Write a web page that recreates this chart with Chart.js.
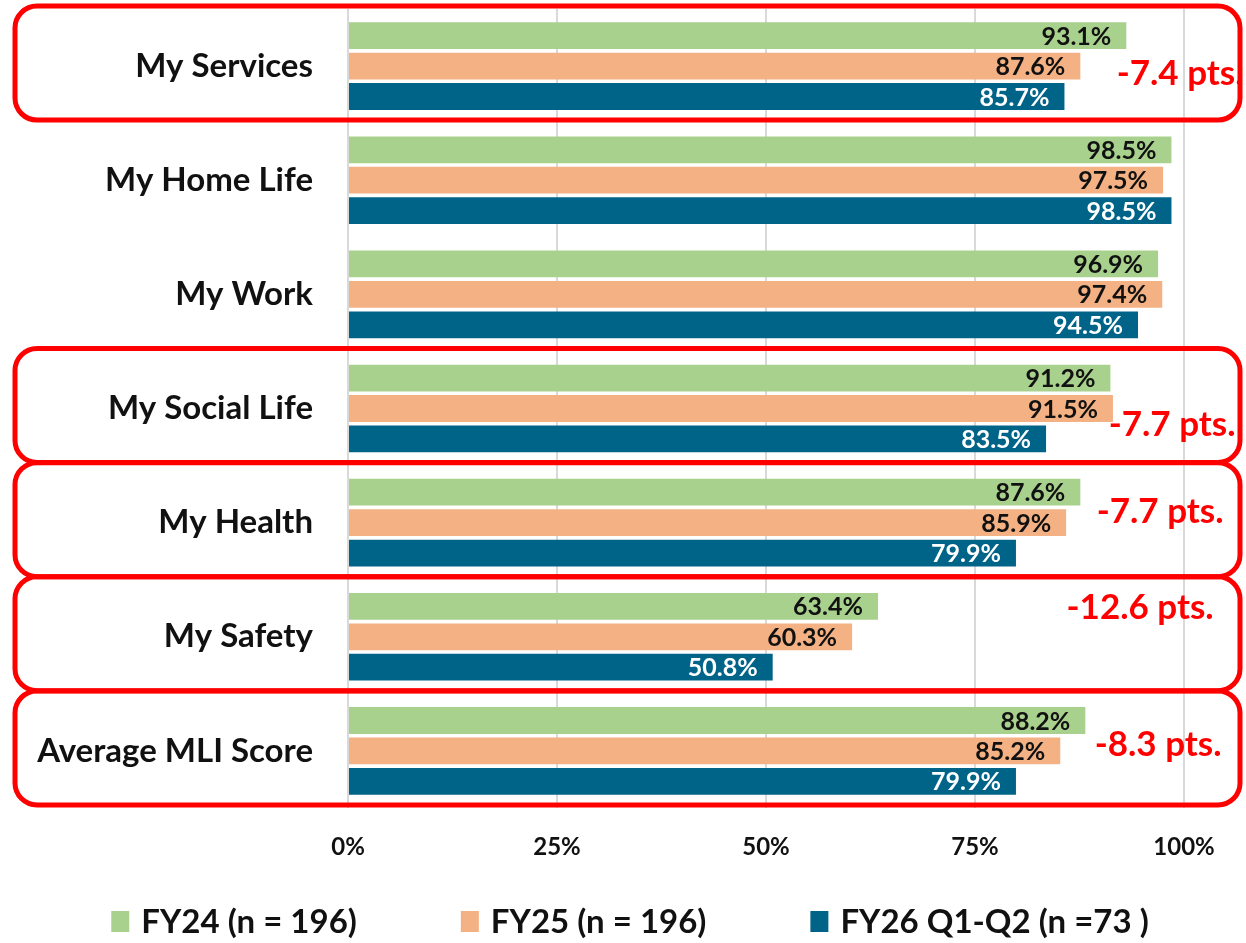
<!DOCTYPE html>
<html>
<head>
<meta charset="utf-8">
<script src="https://cdn.jsdelivr.net/npm/chart.js@4/dist/chart.umd.min.js"></script>
<style>
  html, body { margin: 0; padding: 0; background: #fff; }
  #wrap { width: 1246px; height: 943px; }
</style>
</head>
<body>
<div id="wrap"><canvas id="chart" width="1246" height="943"></canvas></div>
<script>
// categories, top to bottom
const categories = ['My Services', 'My Home Life', 'My Work', 'My Social Life', 'My Health', 'My Safety', 'Average MLI Score'];

// series values (fractions)
const fy24 = [0.931, 0.985, 0.969, 0.912, 0.876, 0.634, 0.882];
const fy25 = [0.876, 0.975, 0.974, 0.915, 0.859, 0.603, 0.852];
const fy26 = [0.857, 0.985, 0.945, 0.835, 0.799, 0.508, 0.799];

const seriesNames = ['FY24 (n = 196)', 'FY25 (n = 196)', 'FY26 Q1-Q2 (n =73 )'];
const seriesColors = ['#A9D18E', '#F4B183', '#006388'];
const labelColors = ['#111111', '#111111', '#ffffff'];

const tickValues = [0, 0.25, 0.5, 0.75, 1];

// highlighted categories and their change notes
const boxed = ['My Services', 'My Social Life', 'My Health', 'My Safety', 'Average MLI Score'];
const notes = ['-7.4 pts.', '-7.7 pts.', '-7.7 pts.', '-12.6 pts.', '-8.3 pts.'];
// nudges for each note (px), to sit where the slide had them
const noteDx = [17, 9, -3, -23, -5];
const noteDy = [8, 16, -11, -29, -6];

const FONT = 'Lato, "Open Sans", sans-serif';

const valueLabels = {
  id: 'valueLabels',
  afterDatasetsDraw(chart) {
    const ctx = chart.ctx;
    ctx.save();
    ctx.font = 'bold 25px ' + FONT;
    ctx.textAlign = 'right';
    ctx.textBaseline = 'middle';
    chart.data.datasets.forEach((ds, i) => {
      chart.getDatasetMeta(i).data.forEach((bar, j) => {
        ctx.fillStyle = labelColors[i];
        ctx.fillText((ds.data[j] * 100).toFixed(1) + '%', bar.x - 15, bar.y + 1);
      });
    });
    ctx.restore();
  }
};

const redBoxes = {
  id: 'redBoxes',
  afterDraw(chart) {
    const ctx = chart.ctx;
    const y = chart.scales.y;
    const x = chart.scales.x;
    ctx.save();
    ctx.strokeStyle = '#FF0000';
    ctx.lineWidth = 5;
    boxed.forEach((name, k) => {
      const cy = y.getPixelForValue(categories.indexOf(name));
      const top = cy - 60, bottom = cy + 54;
      ctx.beginPath();
      ctx.roundRect(15, top, 1225, bottom - top, 22);
      ctx.stroke();

      ctx.fillStyle = '#FF0000';
      ctx.font = 'bold 35px ' + FONT;
      ctx.textAlign = 'center';
      ctx.textBaseline = 'middle';
      ctx.fillText(notes[k], x.getPixelForValue(0.975) + noteDx[k], cy + noteDy[k]);
    });
    ctx.restore();
  }
};

const bottomLegend = {
  id: 'bottomLegend',
  afterDraw(chart) {
    const ctx = chart.ctx;
    ctx.save();
    ctx.font = 'bold 33px ' + FONT;
    ctx.textBaseline = 'middle';
    ctx.textAlign = 'left';
    const box = 18, gap = 12, spacing = 104;
    const widths = seriesNames.map(t => box + gap + ctx.measureText(t).width);
    const total = widths.reduce((a, b) => a + b, 0) + spacing * (widths.length - 1);
    let xPos = (chart.width - total) / 2 + 7;
    const cy = 921;
    seriesNames.forEach((t, i) => {
      ctx.fillStyle = seriesColors[i];
      ctx.fillRect(xPos, cy - 10, box, 21);
      ctx.fillStyle = '#111111';
      ctx.fillText(t, xPos + box + gap, cy + 1);
      xPos += widths[i] + spacing;
    });
    ctx.restore();
  }
};

new Chart(document.getElementById('chart'), {
  type: 'bar',
  data: {
    labels: categories,
    datasets: [fy24, fy25, fy26].map((d, i) => ({
      label: seriesNames[i],
      data: d,
      backgroundColor: seriesColors[i],
      borderWidth: 0,
      categoryPercentage: 0.8,
      barPercentage: 0.88
    }))
  },
  options: {
    indexAxis: 'y',
    responsive: false,
    animation: false,
    devicePixelRatio: 1,
    layout: { padding: { top: 9, right: 62, bottom: 75, left: 0 } },
    plugins: {
      legend: { display: false },
      tooltip: { enabled: false }
    },
    scales: {
      x: {
        min: 0,
        max: 1,
        afterBuildTicks: s => { s.ticks = tickValues.map(v => ({ value: v })); },
        afterFit: s => { s.height = 60; s.paddingLeft = 0; s.paddingRight = 0; },
        grid: { color: '#D9D9D9', lineWidth: 2, drawTicks: false },
        border: { display: false },
        ticks: {
          padding: 25,
          color: '#111111',
          font: { family: FONT, size: 24, weight: 'bold' },
          callback: v => Math.round(v * 100) + '%'
        }
      },
      y: {
        afterFit: s => { s.width = 348; s.paddingTop = 0; s.paddingBottom = 0; },
        grid: { display: false, drawTicks: false },
        border: { display: false },
        ticks: {
          padding: 35,
          color: '#111111',
          font: { family: FONT, size: 33, weight: 'bold' }
        }
      }
    }
  },
  plugins: [valueLabels, redBoxes, bottomLegend]
});
</script>
</body>
</html>
